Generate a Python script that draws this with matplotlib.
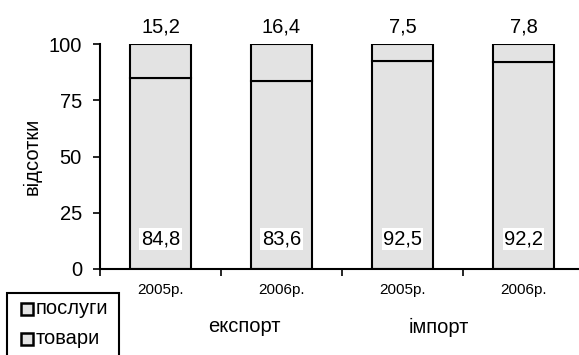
import matplotlib
matplotlib.use("Agg")
import matplotlib.pyplot as plt
from matplotlib.patches import Rectangle

plt.rcParams['font.family'] = ['Liberation Sans', 'DejaVu Sans']

years = ['2005р.', '2006р.', '2005р.', '2006р.']
groups = ['експорт', 'імпорт']
goods = [84.8, 83.6, 92.5, 92.2]      # товари
services = [15.2, 16.4, 7.5, 7.8]     # послуги
legend_labels = ['послуги', 'товари']
yticks = [0, 25, 50, 75, 100]

W, H = 579, 355
fig = plt.figure(figsize=(W / 100, H / 100), dpi=100)
ax = fig.add_axes([100 / W, 1 - 269 / H, 484 / W, 225 / H])

fill = '#e3e3e3'
FS = 14.5
x = [i + 0.5 for i in range(len(goods))]
ax.bar(x, goods, width=0.5, color=fill, edgecolor='black', linewidth=1.5)
ax.bar(x, services, width=0.5, bottom=goods, color=fill, edgecolor='black', linewidth=1.5)

for xi, g, s in zip(x, goods, services):
    ax.text(xi, g + s + 3.2, f"{s:.1f}".replace('.', ','), ha='center', va='bottom', fontsize=FS)
    ax.text(xi, 13.5, f"{g:.1f}".replace('.', ','), ha='center', va='center', fontsize=FS,
            bbox=dict(facecolor='white', edgecolor='none', pad=1.0))

ax.set_xlim(0, 4)
ax.set_ylim(0, 100)
ax.set_yticks(yticks)
ax.set_yticklabels([str(v) for v in yticks], fontsize=FS)
ax.set_xticks([0, 1, 2, 3, 4])
ax.set_xticklabels([])
ax.set_xticks(x, minor=True)
ax.set_xticklabels(years, minor=True, fontsize=11)
ax.tick_params(axis='x', which='minor', length=0, pad=10)
ax.tick_params(axis='x', which='major', length=5, width=1.2, direction='out')
ax.tick_params(axis='y', length=5, width=1.2, direction='out', pad=8)
for sp in ['top', 'right']:
    ax.spines[sp].set_visible(False)
for sp in ['left', 'bottom']:
    ax.spines[sp].set_linewidth(1.5)
ax.set_ylabel('відсотки', fontsize=FS, labelpad=5)

fig.text(244 / W, 1 - 327 / H, groups[0], ha='center', va='center', fontsize=FS)
fig.text(439 / W, 1 - 327 / H, groups[1], ha='center', va='center', fontsize=FS)

# legend box (bottom cut off by figure edge)
fig.patches.append(Rectangle((7 / W, -0.05), 112 / W, (1 - 293 / H) + 0.05,
                             transform=fig.transFigure, facecolor='white',
                             edgecolor='black', linewidth=1.5))
for i, lab in enumerate(legend_labels):
    yc = 309 + 30 * i
    fig.patches.append(Rectangle((21 / W, 1 - (yc + 6) / H), 12 / W, 12 / H,
                                 transform=fig.transFigure, facecolor=fill,
                                 edgecolor='black', linewidth=1.8))
    fig.text(36 / W, 1 - yc / H, lab, ha='left', va='center', fontsize=FS)

fig.savefig('out.png', dpi=100)
